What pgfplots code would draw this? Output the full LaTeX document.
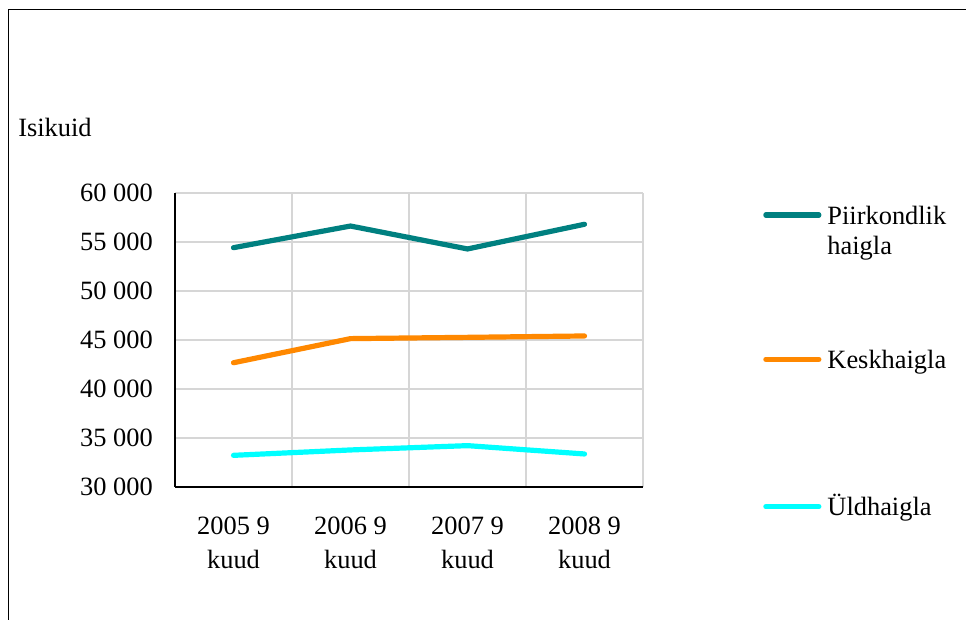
\documentclass[border=0pt]{standalone}
\usepackage{fontspec}
\setmainfont{Liberation Serif}
\usepackage{pgfplots}
\pgfplotsset{compat=1.18}
\definecolor{cteal}{HTML}{008080}
\definecolor{corange}{HTML}{FF8800}
\definecolor{ccyan}{HTML}{00FFFF}
\begin{document}
\fontsize{19.8}{22.5}\selectfont
\begin{tikzpicture}
\useasboundingbox (0,0) rectangle (724.5pt,465pt);
\draw[black, line width=1.4pt] (6.4pt,0pt) -- (6.4pt,457.9pt) -- (724.5pt,457.9pt);
\node[anchor=base west, inner sep=0pt] at (13.5pt,362.25pt) {Isikuid};
\begin{axis}[
  scale only axis, width=351pt, height=220.5pt,
  at={(131.25pt,99.75pt)}, anchor=south west,
  xmin=0, xmax=4, ymin=30000, ymax=60000,
  xtick={0.5,1.5,2.5,3.5},
  xticklabels={{2005 9\\kuud},{2006 9\\kuud},{2007 9\\kuud},{2008 9\\kuud}},
  minor xtick={0,1,2,3,4},
  ytick={30000,35000,...,60000},
  scaled y ticks=false,
  xminorgrids, ymajorgrids,
  grid style={draw=black!16, line width=0.8pt},
  minor grid style={draw=black!16, line width=0.8pt},
  axis x line*=bottom, axis y line*=left,
  axis line style={black, line width=1pt, -},
  tick style={draw=none}, major tick length=0pt, minor tick length=0pt,
  xticklabel style={align=center, inner sep=0pt, yshift=-22pt, font=\fontsize{19.8}{25.5}\selectfont},
  yticklabel style={inner sep=0pt, xshift=-16.5pt},
  /pgf/number format/.cd, 1000 sep={\ }, assume math mode=true,
  /pgfplots/.cd,
  legend style={at={(1.2564,0.957)}, anchor=north west, draw=none, fill=none,
    inner sep=0pt, row sep=91.5pt, column sep=4.5pt,
    nodes={inner sep=0pt}},
  legend cell align=left,
  legend style={cells={anchor=base west}},
  legend image code/.code={\draw[#1, line cap=round] (1.5pt,6.9pt) -- (41.25pt,6.9pt);},
]
\addplot[cteal, line width=3.9pt, line cap=round, line join=round] coordinates {(0.5,54420) (1.5,56630) (2.5,54290) (3.5,56810)};
\addlegendentry{\vtop{\hbox{Piirkondlik}\hbox{haigla}}}
\addplot[corange, line width=3.9pt, line cap=round, line join=round] coordinates {(0.5,42680) (1.5,45140) (2.5,45270) (3.5,45410)};
\addlegendentry{Keskhaigla}
\addplot[ccyan, line width=3.9pt, line cap=round, line join=round] coordinates {(0.5,33230) (1.5,33780) (2.5,34220) (3.5,33370)};
\addlegendentry{Üldhaigla}
\end{axis}
\end{tikzpicture}
\end{document}
